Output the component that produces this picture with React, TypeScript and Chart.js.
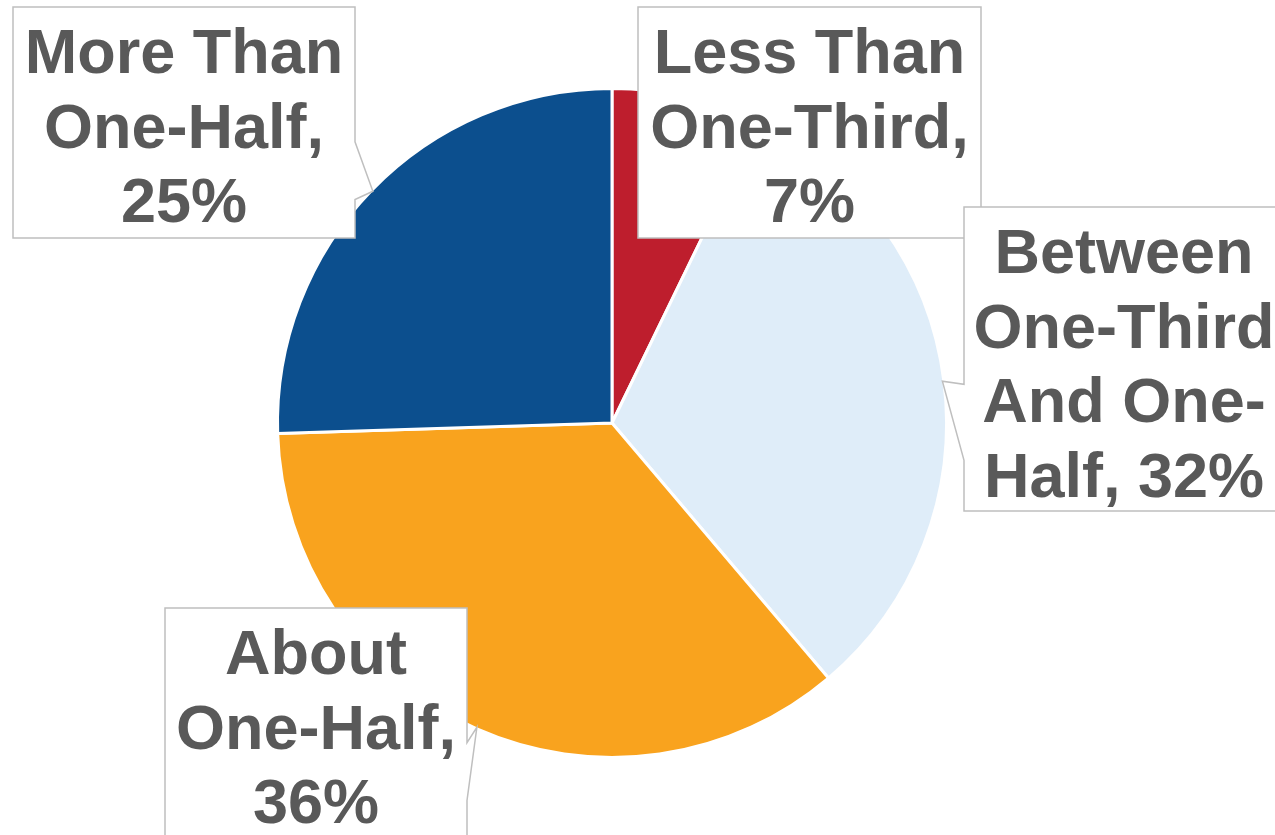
import React, { useEffect, useRef } from "react";
import { Chart, registerables } from "chart.js";

Chart.register(...registerables);

const categories = [
  "Less Than One-Third",
  "Between One-Third And One-Half",
  "About One-Half",
  "More Than One-Half",
];
const shares = [7.2, 31.6, 35.7, 25.5];
const labelLines = [
  ["Less Than", "One-Third,", "7%"],
  ["Between", "One-Third", "And One-", "Half, 32%"],
  ["About", "One-Half,", "36%"],
  ["More Than", "One-Half,", "25%"],
];
const sliceColors = ["#BE1E2D", "#DFEDF9", "#F9A31E", "#0C4F8E"];

// callout box layout (left, top, right, bottom) in canvas pixels
const calloutBoxes = [
  { l: 638, t: 7, r: 981, b: 238 },
  { l: 964, t: 207, r: 1284, b: 511 },
  { l: 165, t: 608, r: 467, b: 839 },
  { l: 13, t: 7, r: 355, b: 238 },
];
const drawOrder = [3, 2, 0, 1];
const BORDER = 3;
const FONT = "bold 63px 'Liberation Sans', Arial, sans-serif";
const TEXT_COLOR = "#595959";
const FIRST_BASELINE = 66;
const LINE_PITCH = 74.5;

const calloutPlugin = {
  id: "callouts",
  afterDatasetsDraw(chart: any) {
    const ctx = chart.ctx as CanvasRenderingContext2D;
    const meta = chart.getDatasetMeta(0);
    ctx.save();
    drawOrder.forEach((i) => {
      const arc = meta.data[i];
      const p = arc.getProps(["x", "y", "startAngle", "endAngle", "outerRadius"], true);
      const mid = (p.startAngle + p.endAngle) / 2;
      const rad = p.outerRadius - BORDER / 2;
      const tx = p.x + Math.cos(mid) * rad;
      const ty = p.y + Math.sin(mid) * rad;
      const { l, t, r, b } = calloutBoxes[i];
      const w = r - l;
      const h = b - t;
      const cx = (l + r) / 2;
      const cy = (t + b) / 2;
      const dx = (tx - cx) / w;
      const dy = (ty - cy) / h;
      const inside = tx >= l && tx <= r && ty >= t && ty <= b;
      ctx.beginPath();
      if (inside) {
        ctx.rect(l, t, w, h);
      } else if (Math.abs(dx) > Math.abs(dy)) {
        const y1 = t + (h * (dy > 0 ? 7 : 2)) / 12;
        const y2 = t + (h * (dy > 0 ? 10 : 5)) / 12;
        if (dx > 0) {
          ctx.moveTo(l, t);
          ctx.lineTo(r, t);
          ctx.lineTo(r, y1);
          ctx.lineTo(tx, ty);
          ctx.lineTo(r, y2);
          ctx.lineTo(r, b);
          ctx.lineTo(l, b);
        } else {
          ctx.moveTo(l, t);
          ctx.lineTo(r, t);
          ctx.lineTo(r, b);
          ctx.lineTo(l, b);
          ctx.lineTo(l, y2);
          ctx.lineTo(tx, ty);
          ctx.lineTo(l, y1);
        }
        ctx.closePath();
      } else {
        const x1 = l + (w * (dx > 0 ? 7 : 2)) / 12;
        const x2 = l + (w * (dx > 0 ? 10 : 5)) / 12;
        if (dy > 0) {
          ctx.moveTo(l, t);
          ctx.lineTo(r, t);
          ctx.lineTo(r, b);
          ctx.lineTo(x2, b);
          ctx.lineTo(tx, ty);
          ctx.lineTo(x1, b);
          ctx.lineTo(l, b);
        } else {
          ctx.moveTo(l, t);
          ctx.lineTo(x1, t);
          ctx.lineTo(tx, ty);
          ctx.lineTo(x2, t);
          ctx.lineTo(r, t);
          ctx.lineTo(r, b);
          ctx.lineTo(l, b);
        }
        ctx.closePath();
      }
      ctx.fillStyle = "#FFFFFF";
      ctx.fill();
      ctx.lineWidth = 1.5;
      ctx.strokeStyle = "#BFBFBF";
      ctx.stroke();

      ctx.fillStyle = TEXT_COLOR;
      ctx.font = FONT;
      ctx.textAlign = "center";
      ctx.textBaseline = "alphabetic";
      labelLines[i].forEach((line, k) => {
        ctx.fillText(line, cx, t + FIRST_BASELINE + k * LINE_PITCH);
      });
    });
    ctx.restore();
  },
};

export default function App() {
  const canvasRef = useRef<HTMLCanvasElement | null>(null);

  useEffect(() => {
    const canvas = canvasRef.current;
    if (!canvas) return;
    const chart = new Chart(canvas, {
      type: "pie",
      data: {
        labels: categories,
        datasets: [
          {
            data: shares,
            backgroundColor: sliceColors,
            borderColor: "#FFFFFF",
            borderWidth: BORDER,
          },
        ],
      },
      options: {
        responsive: false,
        animation: false,
        layout: { padding: { left: 0, right: 51, top: 87, bottom: 76 } },
        plugins: {
          legend: { display: false },
          tooltip: { enabled: false },
        },
      },
      plugins: [calloutPlugin],
    });
    return () => chart.destroy();
  }, []);

  return (
    <div style={{ position: "absolute", left: 0, top: 0, width: 1275, height: 835, background: "#FFFFFF" }}>
      <canvas ref={canvasRef} width={1275} height={835} style={{ display: "block" }} />
    </div>
  );
}
